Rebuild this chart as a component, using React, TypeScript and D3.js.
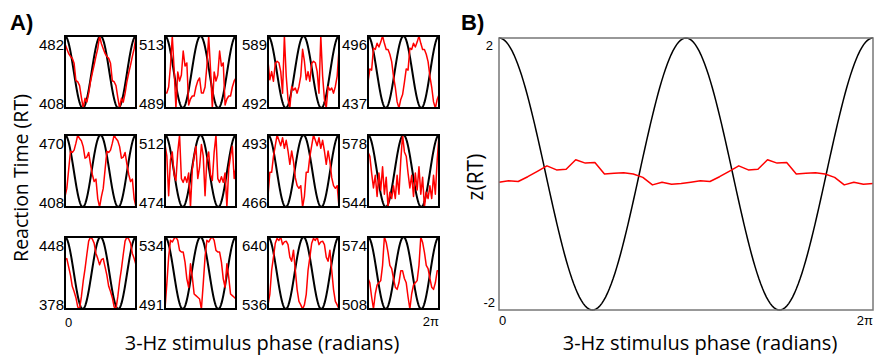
import React from 'react';
import * as d3 from 'd3';

// one phase cycle (20 bins) of mean RT per subject, plotted twice across the axis
const rtS1 = [474, 469, 464, 461, 459, 454, 436, 435, 431, 419, 408, 418, 414, 423, 435, 444, 452, 461, 469, 482];
const rtS2 = [494, 494, 496, 503, 513, 502, 489, 501, 498, 500, 508, 503, 504, 490, 492, 493, 493, 496, 498, 499];
const rtS3 = [555, 530, 541, 528, 552, 555, 553, 541, 512, 589, 535, 504, 492, 521, 516, 519, 512, 521, 535, 571];
const rtS4 = [458, 469, 468, 486, 485, 490, 487, 491, 496, 490, 485, 485, 481, 475, 463, 454, 442, 437, 444, 448];
const rtS5 = [417, 424, 440, 456, 455, 457, 463, 470, 467, 465, 460, 450, 451, 455, 445, 436, 430, 432, 415, 408];
const rtS6 = [507, 501, 480, 499, 503, 491, 488, 503, 512, 489, 487, 490, 487, 492, 474, 494, 501, 506, 489, 495];
const rtS7 = [470, 479, 479, 485, 489, 493, 491, 489, 492, 488, 491, 487, 482, 487, 483, 477, 474, 473, 474, 466];
const rtS8 = [570, 568, 560, 553, 559, 549, 560, 552, 563, 550, 558, 544, 551, 548, 554, 548, 559, 550, 566, 578];
const rtS9 = [426, 427, 419, 411, 400, 395, 389, 380, 378, 390, 405, 417, 431, 444, 448, 446, 442, 432, 427, 421];
const rtS10 = [491, 506, 522, 532, 531, 533, 534, 532, 526, 525, 525, 519, 509, 504, 518, 510, 500, 499, 498, 497];
const rtS11 = [542, 557, 592, 611, 631, 638, 635, 640, 629, 633, 634, 629, 611, 605, 621, 592, 564, 547, 542, 536];
const rtS12 = [536, 532, 519, 508, 522, 530, 532, 534, 548, 574, 569, 560, 548, 545, 536, 528, 526, 532, 543, 543];

const subjects = [rtS1, rtS2, rtS3, rtS4, rtS5, rtS6, rtS7, rtS8, rtS9, rtS10, rtS11, rtS12];
const tickTop = [482, 513, 589, 496, 470, 512, 493, 578, 448, 534, 640, 574];
const tickBottom = [408, 489, 492, 437, 408, 474, 466, 544, 378, 491, 536, 508];

// grand average z(RT), one cycle
const zRT = [-0.12, -0.1, -0.11, -0.04, 0.04, 0.12, 0.06, 0.07, 0.21, 0.16, 0.17, 0.0, 0.01, 0.02, 0.0, -0.05, -0.16, -0.12, -0.15, -0.14];

const zTicks = [2, -2];

const colX = [65, 165, 268, 368];
const rowY = [36, 135, 237];
const cellW = 71;
const cellH = 72;

const B = { left: 499, right: 873, top: 38, bottom: 310 };

const tickFont = 'Liberation Sans, Arial, Helvetica, sans-serif';
const titleFont = 'Open Sans, sans-serif';

const twoCycles = (v: number[]) => v.concat(v);
const refPhase = d3.range(0, 201).map((i) => (i / 200) * 2 * Math.PI);

function SubjectPanel({ idx }: { idx: number }) {
  const x0 = colX[idx % 4];
  const y0 = rowY[Math.floor(idx / 4)];
  const lo = tickBottom[idx];
  const hi = tickTop[idx];
  const vals = twoCycles(subjects[idx]);
  const x = d3.scaleLinear().domain([0, 2 * Math.PI]).range([x0, x0 + cellW]);
  const y = d3.scaleLinear().domain([lo, hi]).range([y0 + cellH, y0]);
  const n = vals.length;
  const red = d3
    .line<number>()
    .x((_, i) => x((i / (n - 1)) * 2 * Math.PI))
    .y((d) => y(d))(vals);
  const black = d3
    .line<number>()
    .x((p) => x(p))
    .y((p) => y(lo + ((hi - lo) * (Math.cos(2 * p) + 1)) / 2))(refPhase);
  return (
    <g>
      <path d={black || ''} fill="none" stroke="#000" strokeWidth={2} />
      <path d={red || ''} fill="none" stroke="#ff0000" strokeWidth={1.5} strokeLinejoin="round" />
      <rect x={x0} y={y0} width={cellW} height={cellH} fill="none" stroke="#000" strokeWidth={2} />
      <text x={x0 - 1} y={y0 + 14} textAnchor="end" fontFamily={tickFont} fontSize={15}>
        {hi}
      </text>
      <text x={x0 - 1} y={y0 + cellH + 0.5} textAnchor="end" fontFamily={tickFont} fontSize={15}>
        {lo}
      </text>
    </g>
  );
}

export default function App() {
  const xB = d3.scaleLinear().domain([0, 2 * Math.PI]).range([B.left, B.right]);
  const yB = d3.scaleLinear().domain([-2, 2]).range([B.bottom, B.top]);
  const zVals = twoCycles(zRT);
  const nz = zVals.length;
  const redB = d3
    .line<number>()
    .x((_, i) => xB((i / (nz - 1)) * 2 * Math.PI))
    .y((d) => yB(d))(zVals);
  const blackB = d3
    .line<number>()
    .x((p) => xB(p))
    .y((p) => yB(2 * Math.cos(2 * p)))(refPhase);

  return (
    <svg width={874} height={356} style={{ position: 'absolute', left: 0, top: 0, background: '#fff' }}>
      <text x={10} y={30} fontFamily={tickFont} fontWeight="bold" fontSize={22}>
        A)
      </text>
      <text x={461} y={30} fontFamily={tickFont} fontWeight="bold" fontSize={22}>
        B)
      </text>

      {subjects.map((_, i) => (
        <SubjectPanel key={i} idx={i} />
      ))}

      <text x={65} y={327} fontFamily={tickFont} fontSize={13}>
        0
      </text>
      <text x={439} y={326} textAnchor="end" fontFamily={tickFont} fontSize={13}>
        2π
      </text>
      <text x={262} y={350} textAnchor="middle" fontFamily={titleFont} fontSize={20}>
        3-Hz stimulus phase (radians)
      </text>
      <text
        transform="translate(28,178) rotate(-90)"
        textAnchor="middle"
        fontFamily={titleFont}
        fontSize={19.5}
      >
        Reaction Time (RT)
      </text>

      {/* panel B */}
      <path d={blackB || ''} fill="none" stroke="#000" strokeWidth={1.5} />
      <path d={redB || ''} fill="none" stroke="#ff0000" strokeWidth={1.5} strokeLinejoin="round" />
      <rect
        x={B.left}
        y={B.top}
        width={B.right - B.left}
        height={B.bottom - B.top}
        fill="none"
        stroke="#777"
        strokeWidth={1.5}
      />
      <text x={B.left - 6} y={yB(zTicks[0]) + 12} textAnchor="end" fontFamily={tickFont} fontSize={13}>
        {zTicks[0]}
      </text>
      <text x={B.left - 4} y={yB(zTicks[1]) - 3} textAnchor="end" fontFamily={tickFont} fontSize={13}>
        {zTicks[1]}
      </text>
      <text x={B.left} y={325} fontFamily={tickFont} fontSize={13}>
        0
      </text>
      <text x={B.right} y={325} textAnchor="end" fontFamily={tickFont} fontSize={13}>
        2π
      </text>
      <text x={700} y={350} textAnchor="middle" fontFamily={titleFont} fontSize={20}>
        3-Hz stimulus phase (radians)
      </text>
      <text
        transform="translate(483,177) rotate(-90)"
        textAnchor="middle"
        fontFamily={titleFont}
        fontSize={21}
      >
        z(RT)
      </text>
    </svg>
  );
}
